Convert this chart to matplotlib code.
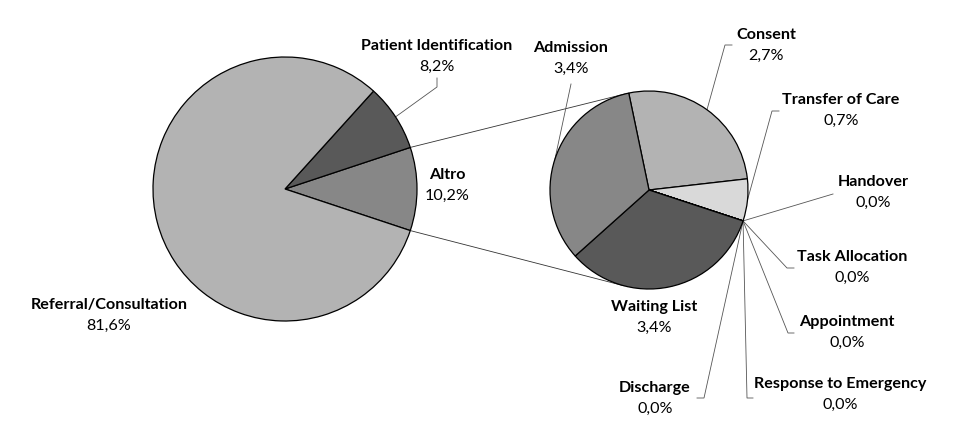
import numpy as np
import matplotlib
matplotlib.use('Agg')
from matplotlib import pyplot as plt

# main pie
main_labels = ['Altro', 'Patient Identification', 'Referral/Consultation']
main_values = [10.2, 8.2, 81.6]
main_colors = ['#878787', '#595959', '#b3b3b3']

# second pie ("Altro" split)
sub_labels = ['Consent', 'Transfer of Care', 'Handover', 'Task Allocation', 'Appointment',
              'Response to Emergency', 'Discharge', 'Waiting List', 'Admission']
sub_values = [2.7, 0.7, 0.0, 0.0, 0.0, 0.0, 0.0, 3.4, 3.4]
sub_colors = ['#b3b3b3', '#d9d9d9', '#ffffff', '#ffffff', '#ffffff', '#ffffff', '#ffffff',
              '#595959', '#878787']

H = 443
main_c, main_r = (285, H - 189), 132
sub_c, sub_r = (649, H - 190), 99

# label centre (name line), in pixel coords (y down), and leader-line path
main_pos = {'Altro': (447, 175), 'Patient Identification': (437, 46),
            'Referral/Consultation': (109, 305)}
main_lead = {'Patient Identification': [(437, 87), (437, 78)]}
sub_pos = {'Consent': (766, 35), 'Transfer of Care': (841, 100), 'Handover': (873, 182),
           'Task Allocation': (852, 257), 'Appointment': (847, 322),
           'Response to Emergency': (840, 384), 'Discharge': (655, 388),
           'Waiting List': (654, 307), 'Admission': (571, 48)}
sub_lead = {'Consent': [(725, 45), (732, 45)], 'Transfer of Care': [(772, 111), (779, 111)],
            'Handover': [(833, 194)], 'Task Allocation': [(787, 268), (794, 268)],
            'Appointment': [(788, 333), (794, 333)],
            'Response to Emergency': [(747, 398), (753, 398)],
            'Discharge': [(704, 398), (697, 398)], 'Admission': [(571, 84)]}

plt.rcParams['font.family'] = ['Lato', 'DejaVu Sans']
fig = plt.figure(figsize=(9.75, 4.43), dpi=100)
ax = fig.add_axes([0, 0, 1, 1])

tot = sum(main_values)
w_main, _ = ax.pie(main_values, colors=main_colors, center=main_c, radius=main_r,
                   startangle=-main_values[0] / tot * 180, counterclock=True,
                   wedgeprops=dict(edgecolor='black', linewidth=0.9))
w_sub, _ = ax.pie(sub_values, colors=sub_colors, center=sub_c, radius=sub_r,
                  startangle=101.8, counterclock=False,
                  wedgeprops=dict(edgecolor='black', linewidth=0.9))

# pie() resets the limits, so set them afterwards
ax.set_xlim(0, 975)
ax.set_ylim(0, H)
ax.set_aspect('equal')
ax.axis('off')


def edge_point(c, r, ang):
    a = np.radians(ang)
    return c[0] + r * np.cos(a), c[1] + r * np.sin(a)


def tangent_point(p, c, r, sign):
    d = np.hypot(p[0] - c[0], p[1] - c[1])
    base = np.degrees(np.arctan2(p[1] - c[1], p[0] - c[0]))
    return edge_point(c, r, base + sign * np.degrees(np.arccos(r / d)))


# connector lines between the two pies
altro = w_main[0]
p_top = edge_point(main_c, main_r, altro.theta2)
p_bot = edge_point(main_c, main_r, altro.theta1)
t_top = tangent_point(p_top, sub_c, sub_r, -1)
t_bot = tangent_point(p_bot, sub_c, sub_r, 1)
for p, t in [(p_top, t_top), (p_bot, t_bot)]:
    ax.plot([p[0], t[0]], [p[1], t[1]], color='#333333', lw=0.6, zorder=0)


def fmt(v):
    return f"{v:.1f}%".replace('.', ',')


def draw_labels(wedges, labels, values, c, r, pos, lead):
    for w, lab, v in zip(wedges, labels, values):
        x, y = pos[lab]
        ax.text(x, H - y, lab, ha='center', va='center', fontsize=11.6,
                fontweight='bold', color='black')
        ax.text(x, H - y - 21, fmt(v), ha='center', va='center', fontsize=11.6,
                color='black')
        if lab in lead:
            mid = (w.theta1 + w.theta2) / 2
            sx, sy = edge_point(c, r, mid)
            xs = [sx] + [q[0] for q in lead[lab]]
            ys = [sy] + [H - q[1] for q in lead[lab]]
            ax.plot(xs, ys, color='#555555', lw=0.6, zorder=0.5)


draw_labels(w_main, main_labels, main_values, main_c, main_r, main_pos, main_lead)
draw_labels(w_sub, sub_labels, sub_values, sub_c, sub_r, sub_pos, sub_lead)

fig.savefig('out.png', dpi=100, facecolor='white')
